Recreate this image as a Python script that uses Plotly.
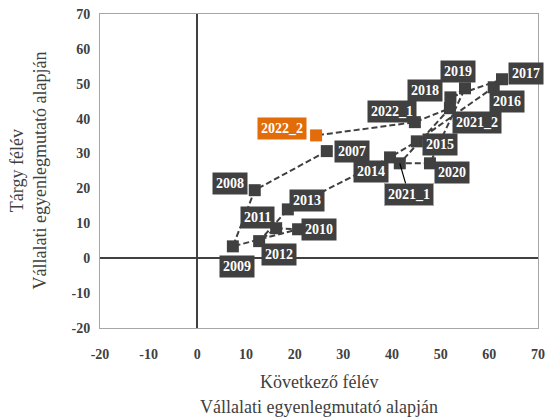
import plotly.graph_objects as go

labels = ["2007", "2008", "2009", "2010", "2011", "2012", "2013", "2014", "2015",
          "2016", "2017", "2018", "2019", "2020", "2021_1", "2021_2", "2022_1", "2022_2"]
next_half = [26.6, 11.8, 7.3, 20.7, 16.2, 12.7, 18.6, 39.6, 45.1,
             60.9, 62.6, 52.0, 55.0, 47.8, 41.6, 51.9, 44.7, 24.4]
current_half = [30.7, 19.5, 3.4, 8.3, 8.6, 4.9, 14.0, 28.9, 33.5,
                49.0, 51.3, 46.1, 48.7, 27.2, 27.2, 43.0, 39.0, 35.2]
tick_vals = [-20, -10, 0, 10, 20, 30, 40, 50, 60, 70]
tick_text = ["-20", "-10", "0", "10", "20", "30", "40", "50", "60", "70"]
x_title = ["Következő félév", "Vállalati egyenlegmutató alapján"]
y_title = ["Tárgy félév", "Vállalati egyenlegmutató alapján"]

# label offsets in pixels (dx right, dy down)
label_offsets = {
    "2007": (25, 0), "2008": (-25, -7), "2009": (4, 20), "2010": (21, 0),
    "2011": (-19, -11), "2012": (20, 13), "2013": (19, -9), "2014": (-19, 14),
    "2015": (23, 3), "2016": (13, 14), "2017": (24, -6), "2018": (-25, -7),
    "2019": (-7, -17), "2020": (22, 9), "2021_1": (9, 31), "2021_2": (27, 14),
    "2022_1": (-23, -11), "2022_2": (-34, -7),
}

DARK = "#404040"
ORANGE = "#E26B0A"
SERIF = "Liberation Serif"

fig = go.Figure()
fig.add_trace(go.Scatter(
    x=next_half, y=current_half, mode="lines",
    line=dict(color=DARK, width=2, dash="6px,3px"),
    hoverinfo="skip", showlegend=False,
))
colors = [DARK] * (len(labels) - 1) + [ORANGE]
fig.add_trace(go.Scatter(
    x=next_half, y=current_half, mode="markers", text=labels,
    marker=dict(symbol="square", size=12, color=colors),
    showlegend=False,
))

for lab, xv, yv, col in zip(labels, next_half, current_half, colors):
    dx, dy = label_offsets[lab]
    common = dict(
        x=xv, y=yv, xref="x", yref="y", text="<b>" + lab + "</b>",
        font=dict(family=SERIF, size=14, color="white"),
        bgcolor=col, borderpad=3,
    )
    if lab == "2021_1":
        fig.add_annotation(**common, showarrow=True, ax=dx, ay=dy,
                           bordercolor="#a6a6a6", borderwidth=1,
                           arrowhead=0, arrowwidth=1.2, arrowcolor="black")
    else:
        fig.add_annotation(**common, showarrow=False, xshift=dx, yshift=-dy)

axis_common = dict(
    tickvals=tick_vals, ticktext=["<b>" + t + "</b>" for t in tick_text], range=[-20, 70],
    showgrid=False, zeroline=True, zerolinecolor=DARK, zerolinewidth=2,
    showline=True, linecolor="#a6a6a6", linewidth=1, mirror=True,
    ticks="", automargin=False,
    tickfont=dict(family=SERIF, size=14, color="#404040"),
)
fig.update_xaxes(**axis_common, ticklabelstandoff=13)
fig.update_yaxes(**axis_common, ticklabelstandoff=6)

title_font = dict(family=SERIF, size=18, color="#404040")
fig.add_annotation(text=x_title[0], xref="paper", yref="paper",
                   x=0.5, y=0, yshift=-42, xanchor="center", yanchor="top",
                   showarrow=False, font=title_font)
fig.add_annotation(text=x_title[1], xref="paper", yref="paper",
                   x=0.5, y=0, yshift=-67, xanchor="center", yanchor="top",
                   showarrow=False, font=title_font)
fig.add_annotation(text="<br>".join(y_title), xref="paper", yref="paper",
                   x=0, y=0.5, xshift=-49, xanchor="right", yanchor="middle",
                   textangle=-90, showarrow=False, font=title_font)

fig.update_layout(
    width=547, height=419,
    margin=dict(l=100, r=9, t=14, b=91),
    plot_bgcolor="white", paper_bgcolor="white",
)
fig.write_html("out.html", config={"displayModeBar": False},
               post_script="document.body.style.margin='0px';")
